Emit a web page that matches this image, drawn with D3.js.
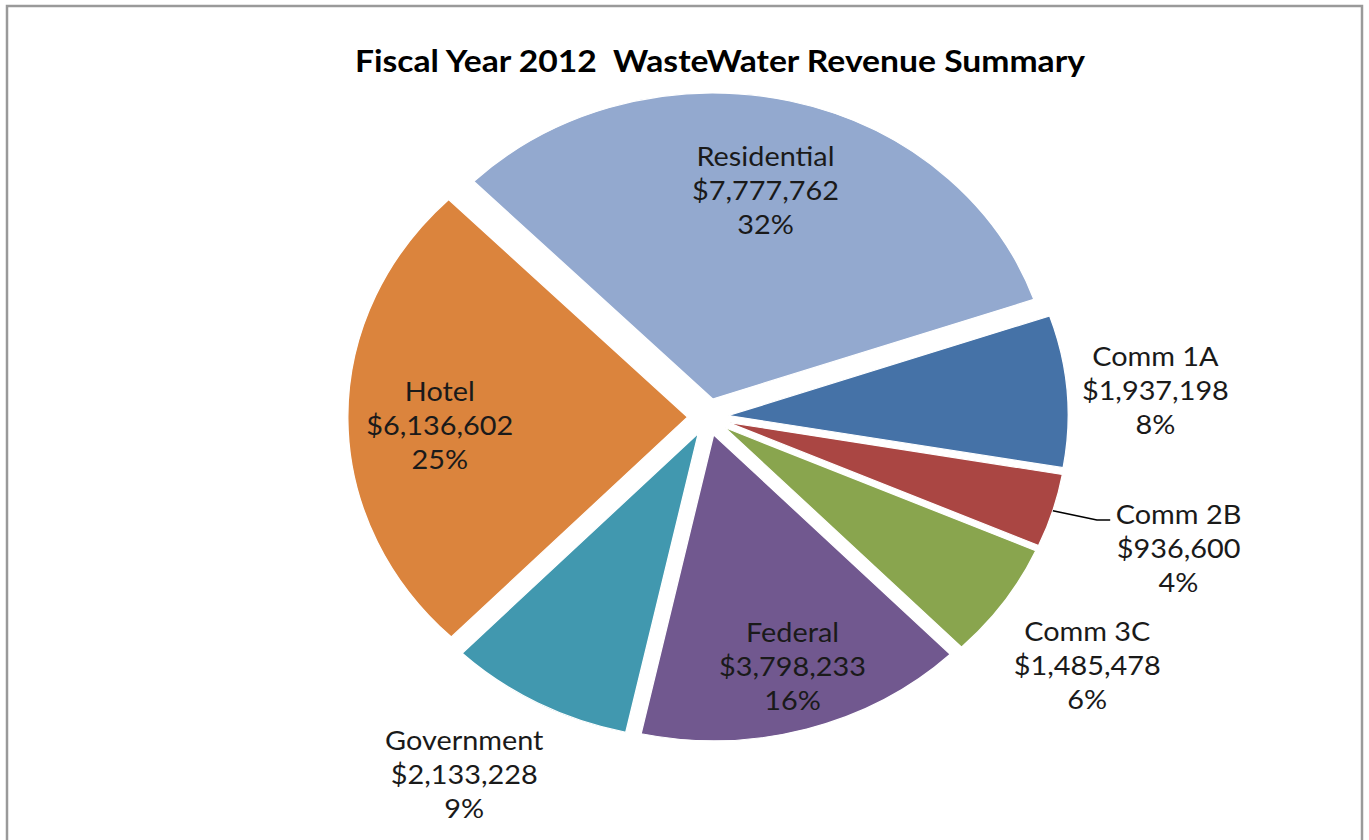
<!DOCTYPE html>
<html>
<head>
<meta charset="utf-8">
<script src="https://cdn.jsdelivr.net/npm/d3@7"></script>
<style>
  html, body { margin: 0; padding: 0; background: #fff; }
  svg { display: block; }
  text { font-family: Lato, "Open Sans", sans-serif; }
</style>
</head>
<body>
<svg id="chart" width="1369" height="840"></svg>
<script>
// Revenue by customer class, FY2012 (in dollars)
const categories = ["Comm 1A", "Comm 2B", "Comm 3C", "Federal", "Government", "Hotel", "Residential"];
const revenues   = [1937198, 936600, 1485478, 3798233, 2133228, 6136602, 7777762];
const colors     = ["#4572A7", "#AA4643", "#89A54E", "#71588F", "#4198AF", "#DB843D", "#93A9CF"];
const titleText  = "Fiscal Year 2012  WasteWater Revenue Summary";

// label placement: radius as a fraction of the pie radius, angular nudge in degrees
const labelPlacement = {
  "Comm 1A":     { r: 1.32,  nudge: 0.8,  leader: false },
  "Comm 2B":     { r: 1.45,  nudge: 0.4,  leader: true  },
  "Comm 3C":     { r: 1.38,  nudge: 1.2,  leader: false },
  "Federal":     { r: 0.85,  nudge: -1.1, leader: false },
  "Government":  { r: 1.37,  nudge: 3.4,  leader: false },
  "Hotel":       { r: 0.79,  nudge: -1.7, leader: false },
  "Residential": { r: 0.76,  nudge: -0.3, leader: false }
};

const data = categories.map((c, i) => ({ name: c, value: revenues[i], color: colors[i] }));
const total = d3.sum(revenues);

const svg = d3.select("#chart");
const W = 1369, H = 840;

// outer frame
svg.append("rect")
  .attr("x", 7).attr("y", 6).attr("width", 1355).attr("height", H + 20)
  .attr("fill", "#fff").attr("stroke", "#9a9a9a").attr("stroke-width", 2.5);

// title
svg.append("text")
  .attr("x", 720).attr("y", 72)
  .attr("text-anchor", "middle")
  .attr("font-size", 30).attr("font-weight", 700)
  .attr("fill", "#000")
  .attr("textLength", 730).attr("lengthAdjust", "spacingAndGlyphs")
  .style("white-space", "pre")
  .text(titleText);

const radius = 306, explode = 18.5, stretch = 1.11;
const deg = Math.PI / 180;
const start = 71 * deg;

const pie = d3.pie().sort(null).value(d => d.value)
  .startAngle(start).endAngle(start + 2 * Math.PI);
const arcs = pie(data);
const arc = d3.arc().innerRadius(0).outerRadius(radius);

const g = svg.append("g")
  .attr("transform", `translate(708,417) scale(${stretch},1)`);

const mid = a => (a.startAngle + a.endAngle) / 2;

g.selectAll("path.slice")
  .data(arcs)
  .join("path")
  .attr("class", "slice")
  .attr("d", arc)
  .attr("fill", d => d.data.color)
  .attr("stroke", "#fff")
  .attr("stroke-width", 1.2)
  .attr("transform", d => {
    const m = mid(d);
    return `translate(${Math.sin(m) * explode},${-Math.cos(m) * explode})`;
  });

const fmt = d3.format("$,");
const lineGap = 34;

const labels = g.selectAll("g.label")
  .data(arcs)
  .join("g")
  .attr("class", "label")
  .each(function (d) {
    const p = labelPlacement[d.data.name];
    const a = mid(d) + p.nudge * deg;
    const r = p.r * radius;
    d.lx = Math.sin(a) * r;
    d.ly = -Math.cos(a) * r;
  })
  .attr("transform", d => `translate(${d.lx},${d.ly})`);

labels.each(function (d) {
  const lines = [d.data.name, fmt(d.data.value), Math.round(d.data.value / total * 100) + "%"];
  const t = d3.select(this).append("text")
    .attr("text-anchor", "middle")
    .attr("font-size", 26)
    .attr("fill", "#1a1a1a");
  lines.forEach((s, i) => {
    t.append("tspan")
      .attr("x", 0)
      .attr("y", (i - 1) * lineGap)
      .attr("dominant-baseline", "central")
      .text(s);
  });
});

// leader line for the small outside label
labels.filter(d => labelPlacement[d.data.name].leader).each(function (d) {
  const m = mid(d);
  const rr = radius + explode;
  const sx = Math.sin(m) * rr, sy = -Math.cos(m) * rr;
  const bb = d3.select(this).select("tspan").node().getBBox();
  const ex = d.lx + bb.x - 5, ey = d.ly - lineGap + 6;
  g.append("polyline")
    .attr("points", `${sx},${sy} ${ex - 12},${ey} ${ex},${ey}`)
    .attr("fill", "none")
    .attr("stroke", "#000")
    .attr("stroke-width", 1.6);
});
</script>
</body>
</html>
